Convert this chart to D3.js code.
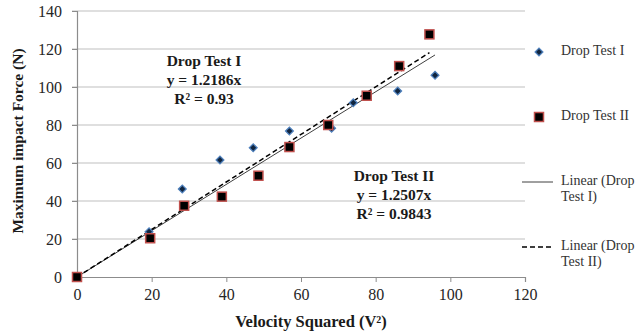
<!DOCTYPE html>
<html>
<head>
	<title>Drop tests - impact force vs velocity squared</title>
	<script src="https://d3js.org/d3.v7.min.js"></script>
	<style>
		body { margin: 0; background: #fff; }
		text { font-family: "Liberation Serif", "Times New Roman", serif; }
	</style>
</head>
<body>
<svg width="644" height="333"></svg>

<script type="text/javascript">
// data
var test1X = [0, 19.3, 28.2, 38.3, 47.2, 56.9, 68.2, 74.0, 85.9, 95.9];
var test1Y = [0, 23.8, 46.3, 61.6, 68.0, 76.8, 78.3, 91.7, 97.9, 106.2];
var test2X = [0, 19.6, 28.7, 38.8, 48.6, 56.9, 67.3, 77.6, 86.3, 94.4];
var test2Y = [0, 20.4, 37.5, 42.3, 53.3, 68.4, 80.0, 95.4, 111.0, 127.7];
var slopes = [1.2186, 1.2507];
var xTicks = [0, 20, 40, 60, 80, 100, 120];
var yTicks = [0, 20, 40, 60, 80, 100, 120, 140];

var svg = d3.select('svg');
var plotLeft = 77, plotRight = 525, plotTop = 11, plotBottom = 277;

var x = d3.scaleLinear().domain([0, 120]).range([plotLeft, plotRight]);
var y = d3.scaleLinear().domain([0, 140]).range([plotBottom, plotTop]);

// gridlines
svg.append('g')
	.selectAll('line')
	.data(yTicks.slice(1))
	.enter()
	.append('line')
	.attr('x1', plotLeft - 5)
	.attr('x2', plotRight)
	.attr('y1', function(d) { return y(d); })
	.attr('y2', function(d) { return y(d); })
	.attr('stroke', '#bfbfbf')
	.attr('stroke-width', 1.2);

// axes
var xAxis = svg.append('g')
	.attr('transform', 'translate(0,' + plotBottom + ')')
	.call(d3.axisBottom(x).tickValues(xTicks).tickSize(5).tickPadding(7));
var yAxis = svg.append('g')
	.attr('transform', 'translate(' + plotLeft + ',0)')
	.call(d3.axisLeft(y).tickValues(yTicks).tickSize(5).tickPadding(10));

[xAxis, yAxis].forEach(function(a) {
	a.select('.domain').attr('stroke', '#8c8c8c').attr('stroke-width', 1.2);
	a.selectAll('.tick line').attr('stroke', '#8c8c8c');
	a.selectAll('.tick text')
		.attr('font-size', 16)
		.attr('font-family', '"Liberation Serif", serif')
		.attr('fill', '#262626');
});

// trend lines through the origin, up to each series' last x
var trend = [
	{slope: slopes[0], xmax: d3.max(test1X), dash: null},
	{slope: slopes[1], xmax: d3.max(test2X), dash: '5,3'}
];
svg.append('g')
	.selectAll('line')
	.data(trend)
	.enter()
	.append('line')
	.attr('x1', x(0))
	.attr('y1', y(0))
	.attr('x2', function(d) { return x(d.xmax); })
	.attr('y2', function(d) { return y(d.slope * d.xmax); })
	.attr('stroke', function(d) { return d.dash ? '#000' : '#404040'; })
	.attr('stroke-width', function(d) { return d.dash ? 1.5 : 1; })
	.attr('stroke-dasharray', function(d) { return d.dash; });

// series markers (diamond = square turned 45 degrees)
var diamond = d3.symbol().type(d3.symbolSquare).size(30);
svg.append('g')
	.selectAll('path')
	.data(d3.range(test1X.length))
	.enter()
	.append('path')
	.attr('d', diamond)
	.attr('transform', function(i) { return 'translate(' + x(test1X[i]) + ',' + y(test1Y[i]) + ') rotate(45)'; })
	.attr('fill', '#10253f')
	.attr('stroke', '#4f81bd')
	.attr('stroke-width', 1.3);

svg.append('g')
	.selectAll('rect')
	.data(d3.range(test2X.length))
	.enter()
	.append('rect')
	.attr('x', function(i) { return x(test2X[i]) - 4.5; })
	.attr('y', function(i) { return y(test2Y[i]) - 4.5; })
	.attr('width', 9)
	.attr('height', 9)
	.attr('fill', '#000')
	.attr('stroke', '#c0504d')
	.attr('stroke-width', 1.5);

// equation annotations
function note(cx, cy, lines) {
	svg.append('g')
		.selectAll('text')
		.data(lines)
		.enter()
		.append('text')
		.attr('x', cx)
		.attr('y', function(d, i) { return cy + i * 19; })
		.attr('text-anchor', 'middle')
		.attr('dominant-baseline', 'middle')
		.attr('font-size', 15.5)
		.attr('font-weight', 'bold')
		.attr('fill', '#1a1a1a')
		.text(function(d) { return d; });
}
note(204, 62, ['Drop Test I', 'y = 1.2186x', 'R\u00b2 = 0.93']);
note(394, 177, ['Drop Test II', 'y = 1.2507x', 'R\u00b2 = 0.9843']);

// axis titles
svg.append('text')
	.attr('x', 311)
	.attr('y', 323)
	.attr('text-anchor', 'middle')
	.attr('dominant-baseline', 'middle')
	.attr('font-size', 16.5)
	.attr('font-weight', 'bold')
	.attr('fill', '#1a1a1a')
	.text('Velocity Squared (V\u00b2)');

svg.append('text')
	.attr('transform', 'translate(19,141) rotate(-90)')
	.attr('text-anchor', 'middle')
	.attr('dominant-baseline', 'middle')
	.attr('font-size', 15.5)
	.attr('font-weight', 'bold')
	.attr('fill', '#1a1a1a')
	.text('Maximum impact Force (N)');

// legend
var leg = svg.append('g');
leg.append('path')
	.attr('d', diamond)
	.attr('transform', 'translate(539,52) rotate(45)')
	.attr('fill', '#10253f')
	.attr('stroke', '#4f81bd')
	.attr('stroke-width', 1.3);
leg.append('rect')
	.attr('x', 534.5).attr('y', 112.5)
	.attr('width', 9).attr('height', 9)
	.attr('fill', '#000')
	.attr('stroke', '#c0504d')
	.attr('stroke-width', 1.5);
leg.append('line')
	.attr('x1', 522).attr('x2', 553).attr('y1', 182).attr('y2', 182)
	.attr('stroke', '#404040');
leg.append('line')
	.attr('x1', 522).attr('x2', 553).attr('y1', 247).attr('y2', 247)
	.attr('stroke', '#000').attr('stroke-width', 1.5)
	.attr('stroke-dasharray', '5,3');

var legendText = [
	['Drop Test I', 52], ['Drop Test II', 117],
	['Linear (Drop', 182], ['Test I)', 198],
	['Linear (Drop', 247], ['Test II)', 263]
];
leg.selectAll('text.lt')
	.data(legendText)
	.enter()
	.append('text')
	.attr('class', 'lt')
	.attr('x', 561)
	.attr('y', function(d) { return d[1]; })
	.attr('dominant-baseline', 'middle')
	.attr('font-size', 14)
	.attr('fill', '#333')
	.text(function(d) { return d[0]; });
</script>
</body>
</html>
